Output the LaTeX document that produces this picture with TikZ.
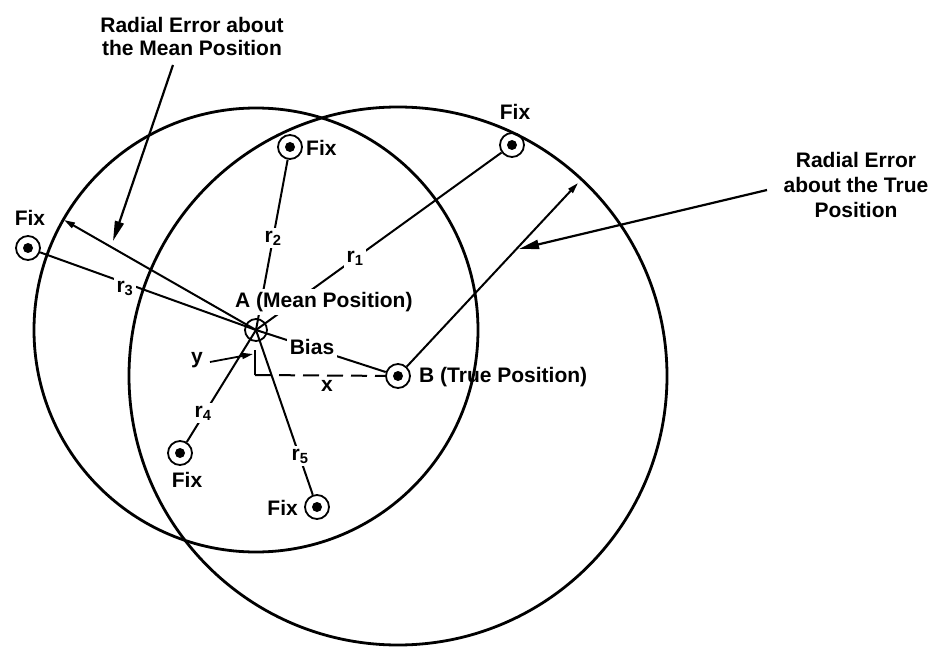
\documentclass[tikz,border=0pt]{standalone}
\usepackage{fontspec}
\setmainfont{Liberation Sans}
\usetikzlibrary{arrows.meta}
\begin{document}
\begin{tikzpicture}[x=1pt,y=-1pt,
  lbl/.style={font=\fontsize{21}{23}\selectfont\bfseries, inner sep=1pt},
  gaplbl/.style={lbl, fill=white, inner sep=3pt},
  fixmark/.style={circle, draw, line width=1.8pt, minimum size=24pt, inner sep=0pt},
  bigcirc/.style={line width=2.8pt},
  rayline/.style={line width=2pt},
  leadarrow/.style={line width=2.2pt, -{Triangle[length=20pt,width=9pt]}},
  smallarrow/.style={-{Triangle[length=11pt,width=6pt]}},
]
\useasboundingbox (0,0) rectangle (940,647);

% markers
\node[fixmark, minimum size=22pt] (A) at (256,330) {};
\node[fixmark] (B) at (398,376) {};
\node[fixmark] (F1) at (512,145) {};
\node[fixmark] (F2) at (290,147) {};
\node[fixmark] (F3) at (28,248) {};
\node[fixmark] (F4) at (180,453) {};
\node[fixmark] (F5) at (317,507) {};
\foreach \n in {B,F1,F2,F3,F4,F5} \fill (\n.center) circle (5pt);

% coordinates
\coordinate (E1) at (64,220);
\coordinate (E2) at (578,183);
\coordinate (C) at (255,375);
\coordinate (Ct) at (255,350);
\coordinate (Y0) at (210,362);
\coordinate (Y1) at (253,354);
\coordinate (L1s) at (173,65);
\coordinate (L1e) at (113,241);
\coordinate (L2s) at (767,190);
\coordinate (L2e) at (519,249);

% rays
\draw[rayline] (A.center) -- (F1);
\draw[rayline] (A.center) -- (F2);
\draw[rayline] (A.center) -- (F3);
\draw[rayline] (A.center) -- (F4);
\draw[rayline] (A.center) -- (F5);
\draw[rayline] (A.center) -- (B);
\draw[rayline, smallarrow] (A.center) -- (E1);
\draw[rayline, smallarrow] (B) -- (E2);

% x / y
\draw[rayline] (Ct) -- (C);
\draw[rayline, dash pattern=on 16pt off 8pt] (C) -- (B);
\node[lbl] (ty) at (197,360) {y};
\draw[line width=1.8pt, smallarrow] (Y0) -- (Y1);
\node[lbl] (tx) at (327,386) {x};

% labels that break lines
\node[gaplbl] (r1) at (355,258) {r\textsubscript{1}};
\node[gaplbl] (r2) at (273,238) {r\textsubscript{2}};
\node[gaplbl] (r3) at (125,288) {r\textsubscript{3}};
\node[gaplbl] (r4) at (203,413) {r\textsubscript{4}};
\node[gaplbl] (r5) at (300,456) {r\textsubscript{5}};
\node[gaplbl] (bias) at (312,347) {Bias};
\node[gaplbl, anchor=west] (tA) at (232,302) {A (Mean Position)};

% big circles
\draw[bigcirc] (A.center) circle (222pt);
\draw[bigcirc] (B.center) circle (269pt);

% other labels
\node[lbl, anchor=west] (tB) at (418,377) {B (True Position)};
\node[lbl] (f1l) at (515,112) {Fix};
\node[lbl, anchor=west] (f2l) at (305,148) {Fix};
\node[lbl] (f3l) at (30,218) {Fix};
\node[lbl] (f4l) at (187,480) {Fix};
\node[lbl, anchor=east] (f5l) at (299,508) {Fix};

% titles and leaders
\node[lbl, align=center] (T1) at (192,36) {Radial Error about\\the Mean Position};
\node[lbl, align=center, font=\fontsize{21}{25}\selectfont\bfseries] (T2) at (856,185) {Radial Error\\about the True\\Position};
\draw[leadarrow] (L1s) -- (L1e);
\draw[leadarrow] (L2s) -- (L2e);
\end{tikzpicture}
\end{document}
